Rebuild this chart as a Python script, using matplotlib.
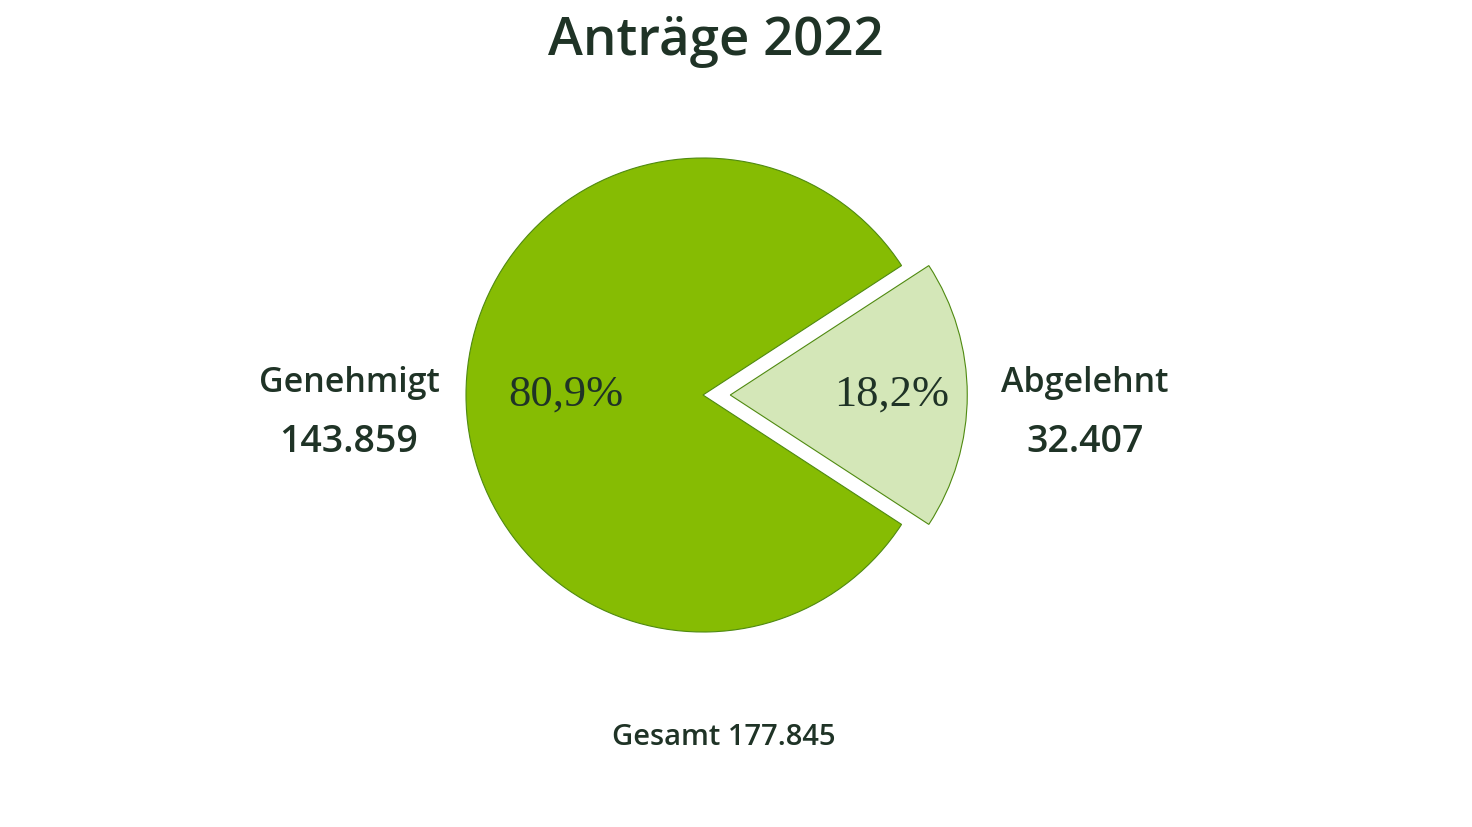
import matplotlib.pyplot as plt

categories = ['Genehmigt', 'Abgelehnt']
values = [143859, 32407]
total = 177845
title = 'Antr\u00e4ge 2022'

colors = ['#86bc03', '#d4e7b8']
text_color = '#1f3326'
sans = ['Open Sans', 'DejaVu Sans']
serif = ['Liberation Serif', 'DejaVu Serif']

W, H = 1472, 828
fig = plt.figure(figsize=(W / 100, H / 100), dpi=100)
ax = fig.add_axes([0, 0, 1, 1])

# pie in pixel coordinates (y measured from bottom)
cx, cy, r = 703, H - 396, 237
share_small = values[1] / sum(values)
# explode is in data units here, not a fraction of the radius
wedges, _ = ax.pie(values, colors=colors, startangle=360 * share_small / 2,
                   explode=[0, 0.115 * r], radius=r, center=(cx, cy),
                   wedgeprops=dict(edgecolor='#4f8a10', linewidth=0.8))
ax.set_xlim(0, W)
ax.set_ylim(0, H)
ax.set_aspect('equal')
ax.axis('off')

def fmt_num(v):
    return f'{v:,}'.replace(',', '.')

def fmt_pct(v):
    return f'{100 * v / total:.1f}%'.replace('.', ',')

ax.text(716, H - 41, title, ha='center', va='center', fontsize=38,
        fontweight='semibold', family=sans, color=text_color)

# percentages inside slices
ax.text(566, H - 395, fmt_pct(values[0]), ha='center', va='center',
        fontsize=32, family=serif, color=text_color)
ax.text(892, H - 395, fmt_pct(values[1]), ha='center', va='center',
        fontsize=32, family=serif, color=text_color)

# side labels
for x, name, val in [(349, categories[0], values[0]), (1085, categories[1], values[1])]:
    ax.text(x, H - 383, name, ha='center', va='center', fontsize=24.5,
            fontweight='semibold', family=sans, color=text_color)
    ax.text(x, H - 442, fmt_num(val), ha='center', va='center', fontsize=27,
            fontweight='semibold', family=sans, color=text_color)

ax.text(724, H - 738, f'Gesamt {fmt_num(total)}', ha='center', va='center',
        fontsize=21, fontweight='semibold', family=sans, color=text_color)

fig.savefig('out.png', dpi=100, facecolor='white')
